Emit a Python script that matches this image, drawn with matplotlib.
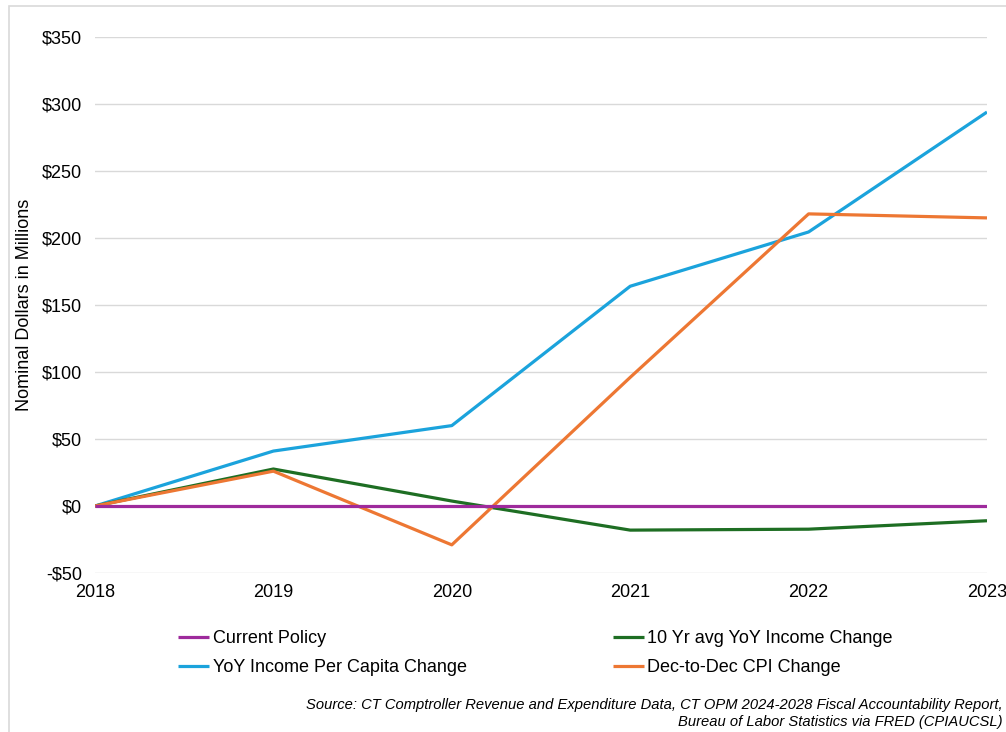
import matplotlib
matplotlib.use("Agg")
import matplotlib.pyplot as plt
from matplotlib.patches import Rectangle
from matplotlib.ticker import FuncFormatter

plt.rcParams['font.family'] = ['Liberation Sans', 'DejaVu Sans']

years = [2018, 2019, 2020, 2021, 2022, 2023]
current_policy = [0, 0, 0, 0, 0, 0]
ten_yr_avg = [0, 27.6, 3.7, -18, -17.3, -11]
yoy_per_capita = [0, 41, 60, 164, 204.5, 294]
cpi_change = [0, 26, -29, 96, 218, 215]

series = [
    ("Current Policy", current_policy, "#9E2A9C"),
    ("10 Yr avg YoY Income Change", ten_yr_avg, "#1E6E23"),
    ("YoY Income Per Capita Change", yoy_per_capita, "#1BA3DC"),
    ("Dec-to-Dec CPI Change", cpi_change, "#ED7733"),
]
draw_order = [2, 1, 3, 0]

fig = plt.figure(figsize=(10.06, 7.32), dpi=100)
fig.patches.append(Rectangle((0.009, -0.01), 1.0, 1 - 6/732 + 0.01, transform=fig.transFigure,
                             fill=False, edgecolor="#D9D9D9", linewidth=1.2))
ax = fig.add_axes([95/1006, 1 - 573/732, (987 - 95)/1006, (573 - 37)/732])

lines = {}
for i in draw_order:
    name, vals, col = series[i]
    ln, = ax.plot(years, vals, color=col, linewidth=2.3, label=name, solid_capstyle='butt', zorder=3)
    lines[i] = ln

ax.set_xlim(2018, 2023)
ax.set_ylim(-50, 350)
ax.set_yticks(range(-50, 351, 50))
ax.set_xticks(years)
ax.yaxis.set_major_formatter(FuncFormatter(lambda v, p: f"-${abs(int(v))}" if v < 0 else f"${int(v)}"))
ax.grid(axis='y', color="#D9D9D9", linewidth=1.0)
ax.set_axisbelow(True)
for s in ax.spines.values():
    s.set_visible(False)
ax.tick_params(axis='both', length=0, labelsize=13, colors="#000000")
ax.tick_params(axis='y', pad=9.5)
ax.tick_params(axis='x', pad=8)
ax.set_ylabel("Nominal Dollars in Millions", fontsize=13)
ax.yaxis.set_label_coords((25 - 95) / 892, 0.5)
ax.yaxis.label.set_va('center')

handles = [lines[i] for i in range(4)]
labels = [series[i][0] for i in range(4)]
fig.legend([handles[0], handles[2], handles[1], handles[3]],
           [labels[0], labels[2], labels[1], labels[3]],
           ncol=2, loc='upper left', bbox_to_anchor=(162/1006, 1 - 614/732),
           frameon=False, fontsize=13, handlelength=1.7, handletextpad=0.2,
           columnspacing=8.1, labelspacing=0.67)

fig.text(1003/1006, 1 - 705/732, "Source: CT Comptroller Revenue and Expenditure Data, CT OPM 2024-2028 Fiscal Accountability Report,",
         ha='right', va='center', fontsize=10.6, style='italic')
fig.text(1003/1006, 1 - 722/732, "Bureau of Labor Statistics via FRED (CPIAUCSL)",
         ha='right', va='center', fontsize=10.6, style='italic')

fig.savefig("out.png", dpi=100)
